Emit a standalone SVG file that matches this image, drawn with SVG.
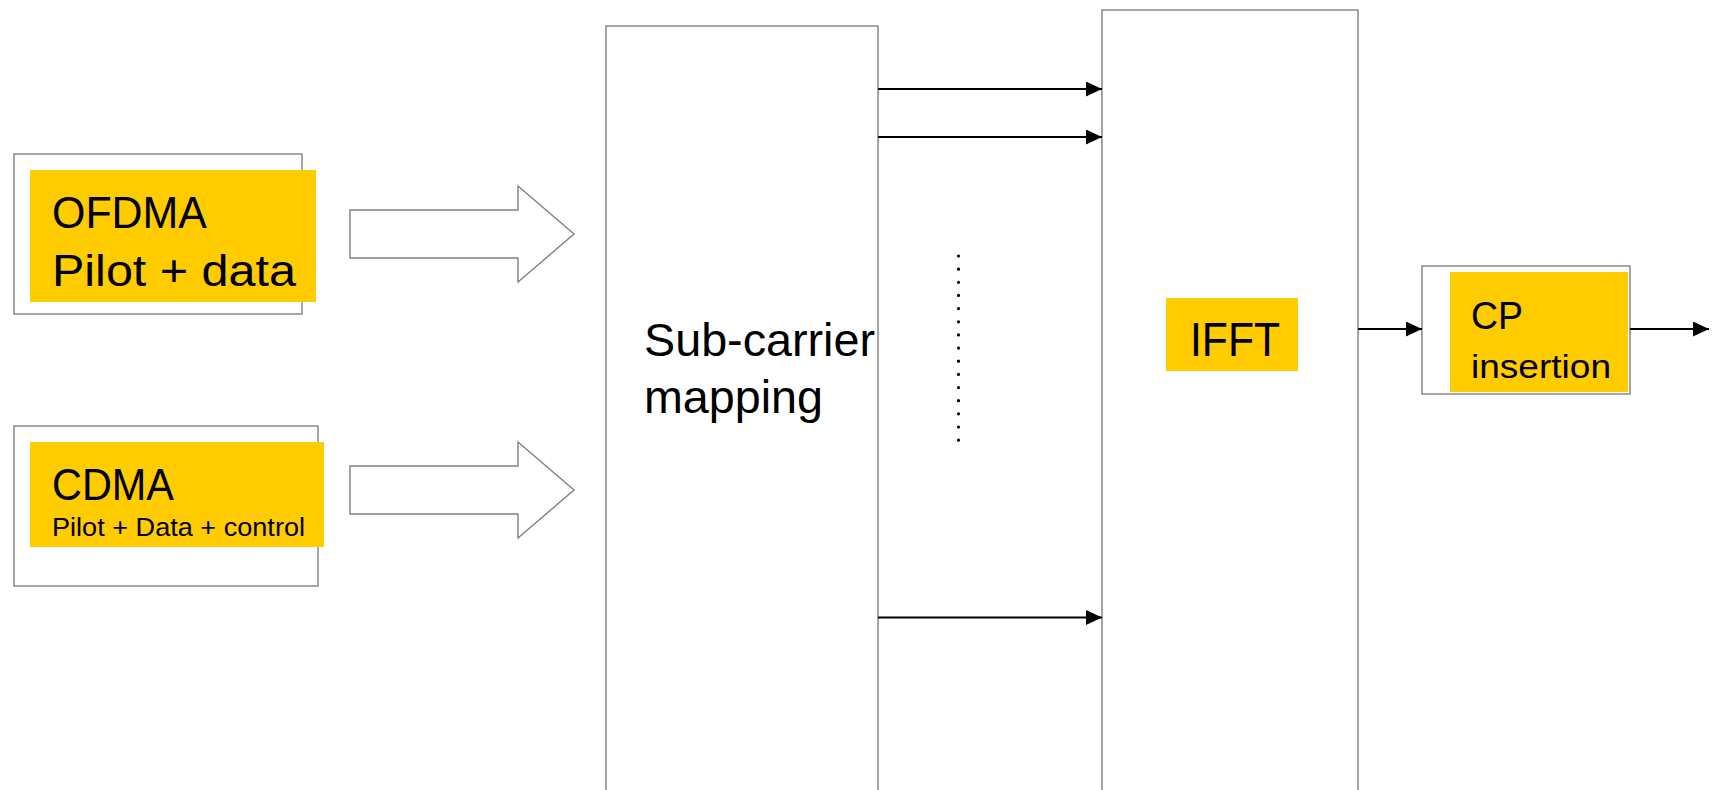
<svg xmlns="http://www.w3.org/2000/svg" width="1720" height="790" viewBox="0 0 1720 790">
<style>
.box{fill:#ffffff;stroke:#808080;stroke-width:1.4}
.hl{fill:#ffcc00}
.t{font-family:"Liberation Sans",Arial,sans-serif;fill:#000000}
.conn{stroke:#000000;stroke-width:2;fill:none}
.blk{fill:#ffffff;stroke:#808080;stroke-width:1.4}
</style>
<defs>
<marker id="ah" markerUnits="userSpaceOnUse" markerWidth="16" markerHeight="16" refX="16" refY="7.5" orient="auto">
<path d="M0,0 L16,7.5 L0,15 Z" fill="#000000"/>
</marker>
</defs>
<rect width="1720" height="790" fill="#ffffff"/>

<g id="ofdma">
<rect class="box" x="14" y="154" width="288" height="160"/>
<rect class="hl" x="30" y="170" width="286" height="132"/>
<text class="t" x="52" y="228" font-size="45" textLength="155" lengthAdjust="spacingAndGlyphs">OFDMA</text>
<text class="t" x="52" y="286" font-size="45" textLength="244" lengthAdjust="spacingAndGlyphs">Pilot + data</text>
</g>

<g id="cdma">
<rect class="box" x="14" y="426" width="304" height="160"/>
<rect class="hl" x="30" y="442" width="294" height="105"/>
<text class="t" x="52" y="500" font-size="45" textLength="122" lengthAdjust="spacingAndGlyphs">CDMA</text>
<text class="t" x="52" y="536" font-size="25" textLength="253" lengthAdjust="spacingAndGlyphs">Pilot + Data + control</text>
</g>

<g id="subcarrier">
<rect class="box" x="606" y="26" width="272" height="800"/>
<text class="t" x="644" y="356" font-size="47" textLength="231" lengthAdjust="spacingAndGlyphs">Sub-carrier</text>
<text class="t" x="644" y="413" font-size="47" textLength="179" lengthAdjust="spacingAndGlyphs">mapping</text>
</g>

<g id="ifft">
<rect class="box" x="1102" y="10" width="256" height="820"/>
<rect class="hl" x="1166" y="298" width="132" height="73"/>
<text class="t" x="1190" y="356" font-size="48" textLength="90" lengthAdjust="spacingAndGlyphs">IFFT</text>
</g>

<g id="cp">
<rect class="box" x="1422" y="266" width="208" height="128"/>
<rect class="hl" x="1450" y="272" width="178" height="120"/>
<text class="t" x="1471" y="329" font-size="38" textLength="52" lengthAdjust="spacingAndGlyphs">CP</text>
<text class="t" x="1471" y="378" font-size="34" textLength="140" lengthAdjust="spacingAndGlyphs">insertion</text>
</g>

<g id="connectors">
<polygon class="blk" points="350,210 518,210 518,186 574,234 518,282 518,258 350,258"/>
<polygon class="blk" points="350,466 518,466 518,442 574,490 518,538 518,514 350,514"/>
<line class="conn" x1="878" y1="89" x2="1102" y2="89" marker-end="url(#ah)"/>
<line class="conn" x1="878" y1="137" x2="1102" y2="137" marker-end="url(#ah)"/>
<line class="conn" x1="878" y1="617.5" x2="1102" y2="617.5" marker-end="url(#ah)"/>
<line x1="958.5" y1="256" x2="958.5" y2="442" stroke="#000000" stroke-width="3.2" stroke-linecap="round" stroke-dasharray="0.01 13.143"/>
<line class="conn" x1="1358" y1="329" x2="1422" y2="329" marker-end="url(#ah)"/>
<line class="conn" x1="1630" y1="329" x2="1709" y2="329" marker-end="url(#ah)"/>
</g>
</svg>
